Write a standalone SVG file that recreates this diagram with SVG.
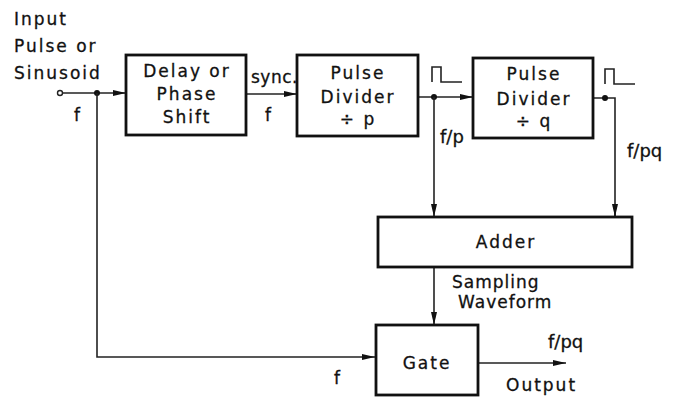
<svg xmlns="http://www.w3.org/2000/svg" width="685" height="400" viewBox="0 0 685 400">
<style>
.box{fill:#fff;stroke:#111;stroke-width:2.8}
.ln{fill:none;stroke:#222;stroke-width:1.6}
text{font-family:"DejaVu Sans","Liberation Sans",sans-serif;font-size:17px;fill:#111;letter-spacing:2px;stroke:#111;stroke-width:0.3}
.c{text-anchor:middle}
.fr{letter-spacing:0;font-size:18px}
</style>
<defs>
<marker id="ah" markerWidth="14" markerHeight="8" refX="13" refY="4" orient="auto" markerUnits="userSpaceOnUse">
<path d="M0,1 L13,4 L0,7 Z" fill="#111"/>
</marker>
</defs>
<g id="connectors">
<circle cx="60" cy="93" r="2.5" fill="#fff" stroke="#222" stroke-width="1.4"/>
<path class="ln" d="M62.5,93 H126" marker-end="url(#ah)"/>
<circle cx="97" cy="93" r="3" fill="#111"/>
<path class="ln" d="M97,93 V357 H375" marker-end="url(#ah)"/>
<path class="ln" d="M246,94 H297" marker-end="url(#ah)"/>
<path class="ln" d="M418,97 H473" marker-end="url(#ah)"/>
<circle cx="434" cy="97" r="3" fill="#111"/>
<path class="ln" d="M434,97 V217" marker-end="url(#ah)"/>
<path class="ln" d="M593,98 H615 V217"/>
<path class="ln" d="M615,205 V217" marker-end="url(#ah)"/>
<circle cx="605" cy="98" r="3" fill="#111"/>
<path class="ln" d="M434,267 V325" marker-end="url(#ah)"/>
<path class="ln" d="M478,363 H566" marker-end="url(#ah)"/>
<path class="ln" d="M432,82 V67 H441 V82 H462"/>
<path class="ln" d="M605,84 V69 H614 V84 H635"/>
</g>
<g id="labels">
<text x="14" y="25">Input</text>
<text x="14" y="52">Pulse or</text>
<text x="14" y="79">Sinusoid</text>
<text x="74" y="121">f</text>
<text x="251" y="83" style="letter-spacing:0.5px">sync.</text>
<text x="265" y="121">f</text>
<text class="fr" x="440" y="143">f/p</text>
<text class="fr" x="627" y="157">f/pq</text>
<text x="452" y="288" style="letter-spacing:1px">Sampling</text>
<text x="458" y="308" style="letter-spacing:1px">Waveform</text>
<text class="fr" x="548" y="348">f/pq</text>
<text x="334" y="384">f</text>
<text x="506" y="391">Output</text>
</g>
<g id="delay">
<rect class="box" x="126" y="55" width="120" height="80"/>
<text class="c" x="187" y="77">Delay or</text>
<text class="c" x="187" y="100">Phase</text>
<text class="c" x="187" y="123">Shift</text>
</g>
<g id="divp">
<rect class="box" x="297" y="55" width="121" height="81"/>
<text class="c" x="358" y="79">Pulse</text>
<text class="c" x="358" y="103">Divider</text>
<text class="c" x="358" y="125">÷ p</text>
</g>
<g id="divq">
<rect class="box" x="473" y="58" width="120" height="80"/>
<text class="c" x="534" y="80">Pulse</text>
<text class="c" x="534" y="105">Divider</text>
<text class="c" x="534" y="127">÷ q</text>
</g>
<g id="adder">
<rect class="box" x="378" y="217" width="254" height="50"/>
<text class="c" x="506" y="248">Adder</text>
</g>
<g id="gate">
<rect class="box" x="376" y="325" width="102" height="70"/>
<text class="c" x="427" y="369">Gate</text>
</g>
</svg>
